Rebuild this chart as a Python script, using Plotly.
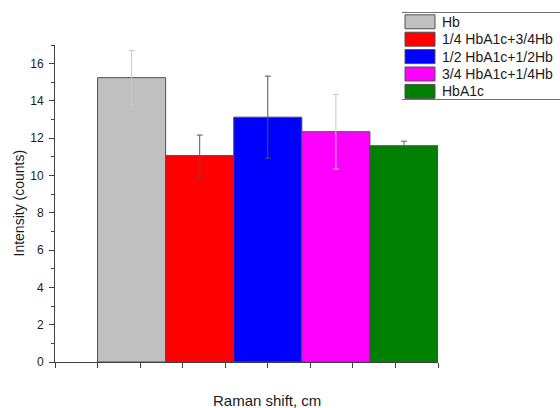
import plotly.graph_objects as go

categories = ["Hb", "1/4 HbA1c+3/4Hb", "1/2 HbA1c+1/2Hb", "3/4 HbA1c+1/4Hb", "HbA1c"]
values = [15.25, 11.07, 13.13, 12.35, 11.6]
errors_plus = [1.46, 1.1, 2.2, 2.0, 0.24]
errors_minus = [1.46, 1.1, 2.2, 2.0, 0.0]
positions = [0, 1, 2, 3, 4]
colors = ["#C0C0C0", "#FF0000", "#0000FF", "#FF00FF", "#008000"]
err_colors = ["#C8C8C8", "#555555", "#555555", "#C8C8C8", "#666666"]
y_ticks = [0, 2, 4, 6, 8, 10, 12, 14, 16]

W, H = 560, 408
L, R, T, B = 55, 438, 45, 362


def px(x):
    return (x - L) / (R - L)


def py(y):
    return (B - y) / (B - T)


fig = go.Figure()
for cat, xv, v, ep, em, c, ec in zip(categories, positions, values, errors_plus, errors_minus, colors, err_colors):
    fig.add_trace(go.Bar(
        x=[xv], y=[v], name=cat, width=1,
        marker=dict(color=c, line=dict(color="#505050", width=1)),
        error_y=dict(type="data", symmetric=False, array=[ep], arrayminus=[em], visible=True,
                     color=ec, thickness=1, width=3),
        showlegend=False,
    ))

# manual legend
shapes = []
annotations = []
shapes.append(dict(type="line", xref="paper", yref="paper", x0=px(402), x1=px(560), y0=py(12.5), y1=py(12.5),
                   line=dict(color="#707070", width=1)))
shapes.append(dict(type="line", xref="paper", yref="paper", x0=px(402), x1=px(560), y0=py(99.5), y1=py(99.5),
                   line=dict(color="#707070", width=1)))
for i, (cat, c) in enumerate(zip(categories, colors)):
    cy = 21.8 + i * 17.4
    shapes.append(dict(type="rect", xref="paper", yref="paper", x0=px(405), x1=px(435), y0=py(cy + 7), y1=py(cy - 7),
                       fillcolor=c, line=dict(color="#505050", width=1)))
    annotations.append(dict(text=cat, xref="paper", yref="paper", x=px(440), y=py(cy), xanchor="left", yanchor="middle",
                            showarrow=False, font=dict(size=14, color="#1a1a1a")))

annotations.append(dict(text="Raman shift, cm", xref="paper", yref="paper", x=px(267), y=py(400),
                        xanchor="center", yanchor="middle", showarrow=False, font=dict(size=15, color="#1a1a1a")))
annotations.append(dict(text="Intensity (counts)", xref="paper", yref="paper", x=px(18), y=py(203.5), textangle=-90,
                        xanchor="center", yanchor="middle", showarrow=False, font=dict(size=14, color="#1a1a1a")))

fig.update_layout(
    width=W, height=H,
    margin=dict(l=L, r=W - R, t=T, b=H - B, pad=0),
    paper_bgcolor="white", plot_bgcolor="white",
    barmode="overlay",
    font=dict(family="Liberation Sans, Arial, sans-serif", size=12, color="#1a1a1a"),
    shapes=shapes, annotations=annotations,
    xaxis=dict(range=[-1.125, 4.5], tick0=-1.125, dtick=0.625, ticks="outside", ticklen=5, tickcolor="#404040",
               showticklabels=False, showline=True, linecolor="#404040", linewidth=1, showgrid=False, zeroline=False),
    yaxis=dict(range=[0, 17], tickvals=y_ticks, ticks="outside", ticklen=5, tickcolor="#404040",
               showline=True, linecolor="#404040", linewidth=1, showgrid=False, zeroline=False,
               minor=dict(dtick=1, ticks="outside", ticklen=3, tickcolor="#404040"),
               tickfont=dict(size=12), ticklabelstandoff=3),
)

fig.write_html("out.html")
